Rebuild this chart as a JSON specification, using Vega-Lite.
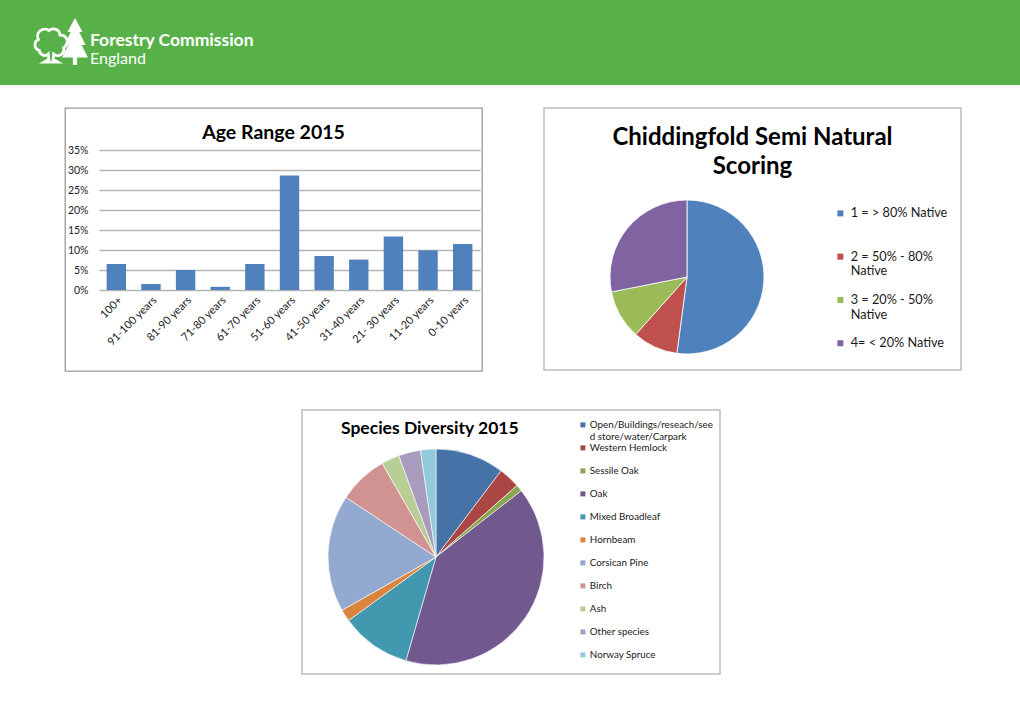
{
  "$schema": "https://vega.github.io/schema/vega-lite/v6.json",
  "padding": 0,
  "background": "white",
  "config": {"font": "Lato", "view": {"stroke": null}},
  "spacing": 22,
  "resolve": {"scale": {"color": "independent"}, "legend": {"color": "independent"}},
  "vconcat": [
    {
      "width": 1020,
      "height": 85,
      "view": {"fill": "#58b148", "stroke": null},
      "title": {
        "text": "Forestry Commission",
        "subtitle": "England",
        "anchor": "start",
        "orient": "top",
        "offset": -81,
        "dx": 90,
        "baseline": "alphabetic",
        "color": "white",
        "font": "Lato",
        "fontSize": 17.5,
        "fontWeight": "bold",
        "subtitleColor": "white",
        "subtitleFont": "Lato",
        "subtitleFontSize": 16,
        "subtitleFontWeight": "normal",
        "subtitlePadding": 1
      },
      "data": {"values": [{"part": "logo"}]},
      "layer": [
        {
          "mark": {
            "type": "point",
            "shape": "M -0.15 0.5 A 0.3 0.3 0 0 1 -0.65 0.3 A 0.32 0.32 0 0 1 -0.7 -0.3 A 0.4 0.4 0 0 1 -0.1 -0.8 A 0.36 0.36 0 0 1 0.5 -0.55 A 0.37 0.37 0 0 1 0.7 0.15 A 0.34 0.34 0 0 1 0.15 0.5 L 0.12 0.8 L 0.38 0.95 L -0.38 0.95 L -0.12 0.8 Z",
            "filled": false,
            "color": "white",
            "strokeWidth": 2.8,
            "size": 1300,
            "x": 51,
            "y": 45,
            "opacity": 1
          },
          "encoding": {}
        },
        {
          "mark": {
            "type": "point",
            "shape": "M 0 -1 L 0.32 -0.4 L 0.18 -0.4 L 0.45 0.15 L 0.28 0.15 L 0.55 0.68 L 0.09 0.68 L 0.09 1 L -0.09 1 L -0.09 0.68 L -0.55 0.68 L -0.28 0.15 L -0.45 0.15 L -0.18 -0.4 L -0.32 -0.4 Z",
            "filled": true,
            "color": "white",
            "size": 2209,
            "x": 75,
            "y": 41.5,
            "opacity": 1
          },
          "encoding": {}
        }
      ]
    },
    {
      "spacing": 37,
      "resolve": {"scale": {"color": "independent"}, "legend": {"color": "independent"}},
      "vconcat": [
        {
          "spacing": 60,
          "resolve": {"scale": {"color": "independent"}, "legend": {"color": "independent"}},
          "hconcat": [
            {
              "width": 4,
              "height": 1,
              "view": {"stroke": null},
              "data": {"values": []},
              "mark": {"type": "point", "opacity": 0},
              "encoding": {}
            },
            {
              "width": 417,
              "height": 263,
              "view": {"stroke": "#9a9a9a", "strokeWidth": 1.3, "fill": "white"},
              "title": {
                "text": "Age Range 2015",
                "anchor": "middle",
                "offset": -50,
                "baseline": "alphabetic",
                "font": "Lato",
                "fontSize": 19.5,
                "fontWeight": "bold",
                "color": "#000000"
              },
              "data": {
                "values": [
                  {"age": "100+", "share": 0.065},
                  {"age": "91-100 years", "share": 0.015},
                  {"age": "81-90 years", "share": 0.05},
                  {"age": "71-80 years", "share": 0.008},
                  {"age": "61-70 years", "share": 0.065},
                  {"age": "51-60 years", "share": 0.286},
                  {"age": "41-50 years", "share": 0.085},
                  {"age": "31-40 years", "share": 0.076},
                  {"age": "21- 30 years", "share": 0.134},
                  {"age": "11-20 years", "share": 0.099},
                  {"age": "0-10 years", "share": 0.115}
                ]
              },
              "mark": {"type": "bar", "color": "#4f81bd"},
              "encoding": {
                "x": {
                  "field": "age",
                  "type": "nominal",
                  "sort": null,
                  "scale": {"range": [34, 415], "paddingInner": 0.44, "paddingOuter": 0.22},
                  "axis": {
                    "orient": "bottom",
                    "offset": -81,
                    "labelAngle": -45,
                    "labelPadding": 4,
                    "ticks": false,
                    "domain": false,
                    "grid": false,
                    "title": null,
                    "labelFont": "Lato",
                    "labelFontSize": 11,
                    "labelColor": "#1a1a1a"
                  }
                },
                "y": {
                  "field": "share",
                  "type": "quantitative",
                  "scale": {"domain": [0, 0.35], "range": [182, 42], "nice": false},
                  "axis": {
                    "values": [0, 0.05, 0.1, 0.15, 0.2, 0.25, 0.3, 0.35],
                    "format": ".0%",
                    "offset": -34,
                    "labelPadding": 11,
                    "ticks": false,
                    "domain": false,
                    "grid": true,
                    "gridColor": "#b4b4b4",
                    "gridWidth": 1.3,
                    "title": null,
                    "labelFont": "Lato",
                    "labelFontSize": 10.5,
                    "labelColor": "#1a1a1a"
                  }
                }
              }
            },
            {
              "width": 417,
              "height": 262,
              "view": {"stroke": "#bdbdbd", "strokeWidth": 1.5, "fill": "white"},
              "title": {
                "text": ["Chiddingfold Semi Natural", "Scoring"],
                "anchor": "middle",
                "offset": -90,
                "baseline": "alphabetic",
                "font": "Lato",
                "fontSize": 24,
                "lineHeight": 29.5,
                "fontWeight": "bold",
                "color": "#000000"
              },
              "data": {
                "values": [
                  {"score": "1 = > 80% Native", "share": 52.1, "rank": 1},
                  {"score": "2 = 50% - 80% Native", "share": 9.5, "rank": 2},
                  {"score": "3 = 20% - 50% Native", "share": 10.3, "rank": 3},
                  {"score": "4= < 20% Native", "share": 28.1, "rank": 4}
                ]
              },
              "mark": {"type": "arc", "outerRadius": 77, "x": 143, "y": 169, "stroke": "white", "strokeWidth": 0.8},
              "encoding": {
                "theta": {"field": "share", "type": "quantitative", "stack": true},
                "order": {"field": "rank", "type": "quantitative"},
                "color": {
                  "field": "score",
                  "type": "nominal",
                  "sort": null,
                  "scale": {
                    "domain": ["1 = > 80% Native", "2 = 50% - 80% Native", "3 = 20% - 50% Native", "4= < 20% Native"],
                    "range": ["#4f81bd", "#c0504d", "#9bbb59", "#8064a2"]
                  },
                  "legend": {
                    "orient": "none",
                    "legendX": 290,
                    "legendY": 99,
                    "title": null,
                    "symbolType": "square",
                    "symbolSize": 36,
                    "symbolStrokeWidth": 0,
                    "labelFont": "Lato",
                    "labelFontSize": 12.7,
                    "labelColor": "#1a1a1a",
                    "labelLimit": 0,
                    "labelOffset": 4,
                    "labelBaseline": "middle",
                    "rowPadding": 15.3,
                    "gridAlign": "all",
                    "labelExpr": "datum.label == '2 = 50% - 80% Native' ? ['2 = 50% - 80%', 'Native'] : datum.label == '3 = 20% - 50% Native' ? ['3 = 20% - 50%', 'Native'] : datum.label"
                  }
                }
              }
            }
          ]
        },
        {
          "spacing": 300,
          "resolve": {"scale": {"color": "independent"}, "legend": {"color": "independent"}},
          "hconcat": [
            {
              "width": 1,
              "height": 1,
              "view": {"stroke": null},
              "data": {"values": []},
              "mark": {"type": "point", "opacity": 0},
              "encoding": {}
            },
            {
              "width": 418,
              "height": 264,
              "view": {"stroke": "#bdbdbd", "strokeWidth": 1.5, "fill": "white"},
              "title": {
                "text": "Species Diversity 2015",
                "anchor": "start",
                "dx": 39,
                "offset": -41,
                "baseline": "alphabetic",
                "font": "Lato",
                "fontSize": 17.5,
                "fontWeight": "bold",
                "color": "#000000"
              },
              "data": {
                "values": [
                  {"species": "Open/Buildings/reseach/seed store/water/Carpark", "share": 10.3, "rank": 1},
                  {"species": "Western Hemlock", "share": 3.2, "rank": 2},
                  {"species": "Sessile Oak", "share": 1.0, "rank": 3},
                  {"species": "Oak", "share": 40.0, "rank": 4},
                  {"species": "Mixed Broadleaf", "share": 10.5, "rank": 5},
                  {"species": "Hornbeam", "share": 1.8, "rank": 6},
                  {"species": "Corsican Pine", "share": 17.5, "rank": 7},
                  {"species": "Birch", "share": 7.4, "rank": 8},
                  {"species": "Ash", "share": 2.7, "rank": 9},
                  {"species": "Other species", "share": 3.3, "rank": 10},
                  {"species": "Norway Spruce", "share": 2.3, "rank": 11}
                ]
              },
              "mark": {"type": "arc", "outerRadius": 108, "x": 134, "y": 147, "stroke": "white", "strokeWidth": 0.6},
              "encoding": {
                "theta": {"field": "share", "type": "quantitative", "stack": true},
                "order": {"field": "rank", "type": "quantitative"},
                "color": {
                  "field": "species",
                  "type": "nominal",
                  "sort": null,
                  "scale": {
                    "domain": ["Open/Buildings/reseach/seed store/water/Carpark", "Western Hemlock", "Sessile Oak", "Oak", "Mixed Broadleaf", "Hornbeam", "Corsican Pine", "Birch", "Ash", "Other species", "Norway Spruce"],
                    "range": ["#4572a7", "#aa4643", "#89a54e", "#71588f", "#4198af", "#db843d", "#93a9cf", "#d19392", "#b9cd96", "#a99bbd", "#92c9db"]
                  },
                  "legend": {
                    "orient": "none",
                    "legendX": 276,
                    "legendY": 10,
                    "title": null,
                    "symbolType": "square",
                    "symbolSize": 25,
                    "symbolStrokeWidth": 0,
                    "labelFont": "Lato",
                    "labelFontSize": 9.8,
                    "labelColor": "#1a1a1a",
                    "labelLimit": 0,
                    "labelOffset": 2,
                    "labelBaseline": "middle",
                    "rowPadding": 0,
                    "gridAlign": "all",
                    "labelExpr": "datum.label == 'Open/Buildings/reseach/seed store/water/Carpark' ? ['Open/Buildings/reseach/see', 'd store/water/Carpark'] : datum.label"
                  }
                }
              }
            }
          ]
        }
      ]
    }
  ]
}
